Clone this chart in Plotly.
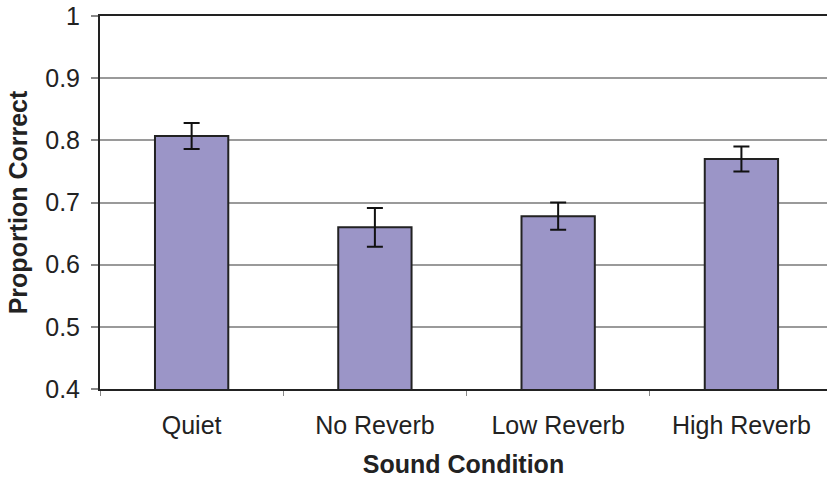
import plotly.graph_objects as go

categories = ["Quiet", "No Reverb", "Low Reverb", "High Reverb"]
values = [0.807, 0.660, 0.678, 0.770]
errors = [0.021, 0.031, 0.022, 0.020]
y_ticks = [0.4, 0.5, 0.6, 0.7, 0.8, 0.9, 1.0]
y_tick_labels = ["0.4", "0.5", "0.6", "0.7", "0.8", "0.9", "1"]

FONT = "Liberation Sans, Arial, sans-serif"
FS = 25

fig = go.Figure(
    go.Bar(
        x=categories,
        y=values,
        width=0.40,
        marker=dict(color="#9b95c7", line=dict(color="#222222", width=2)),
        error_y=dict(type="data", array=errors, visible=True,
                     color="#111111", thickness=2, width=8),
    )
)

fig.update_layout(
    width=827,
    height=482,
    margin=dict(l=100, r=0, t=16, b=93),
    paper_bgcolor="white",
    plot_bgcolor="white",
    showlegend=False,
    font=dict(family=FONT, size=FS, color="#222222"),
)

fig.update_xaxes(
    range=[-0.5, 3.467],
    automargin=False,
    showgrid=False,
    showline=True,
    linecolor="#222222",
    linewidth=2,
    mirror=True,
    ticks="outside",
    tickson="boundaries",
    ticklen=5,
    tickcolor="#888888",
    tickwidth=1,
    tickfont=dict(family=FONT, size=FS, color="#222222"),
    ticklabelstandoff=13,
    title=dict(text="<b>Sound Condition</b>", font=dict(family=FONT, size=FS, color="#222222"), standoff=17),
)

fig.update_yaxes(
    range=[0.4, 1.0],
    automargin=False,
    tickvals=y_ticks,
    ticktext=y_tick_labels,
    showgrid=True,
    gridcolor="#9a9a9a",
    gridwidth=1.5,
    showline=True,
    linecolor="#222222",
    linewidth=2,
    ticks="outside",
    ticklen=7,
    tickcolor="#888888",
    tickwidth=1.5,
    tickfont=dict(family=FONT, size=FS, color="#222222"),
    ticklabelstandoff=6,
    zeroline=False,
    title=dict(text="<b>Proportion Correct</b>", font=dict(family=FONT, size=FS, color="#222222"), standoff=10),
)

fig.write_html(
    "out.html",
    config={"displayModeBar": False},
    post_script="document.body.style.margin='0';document.body.style.overflow='hidden';",
)
